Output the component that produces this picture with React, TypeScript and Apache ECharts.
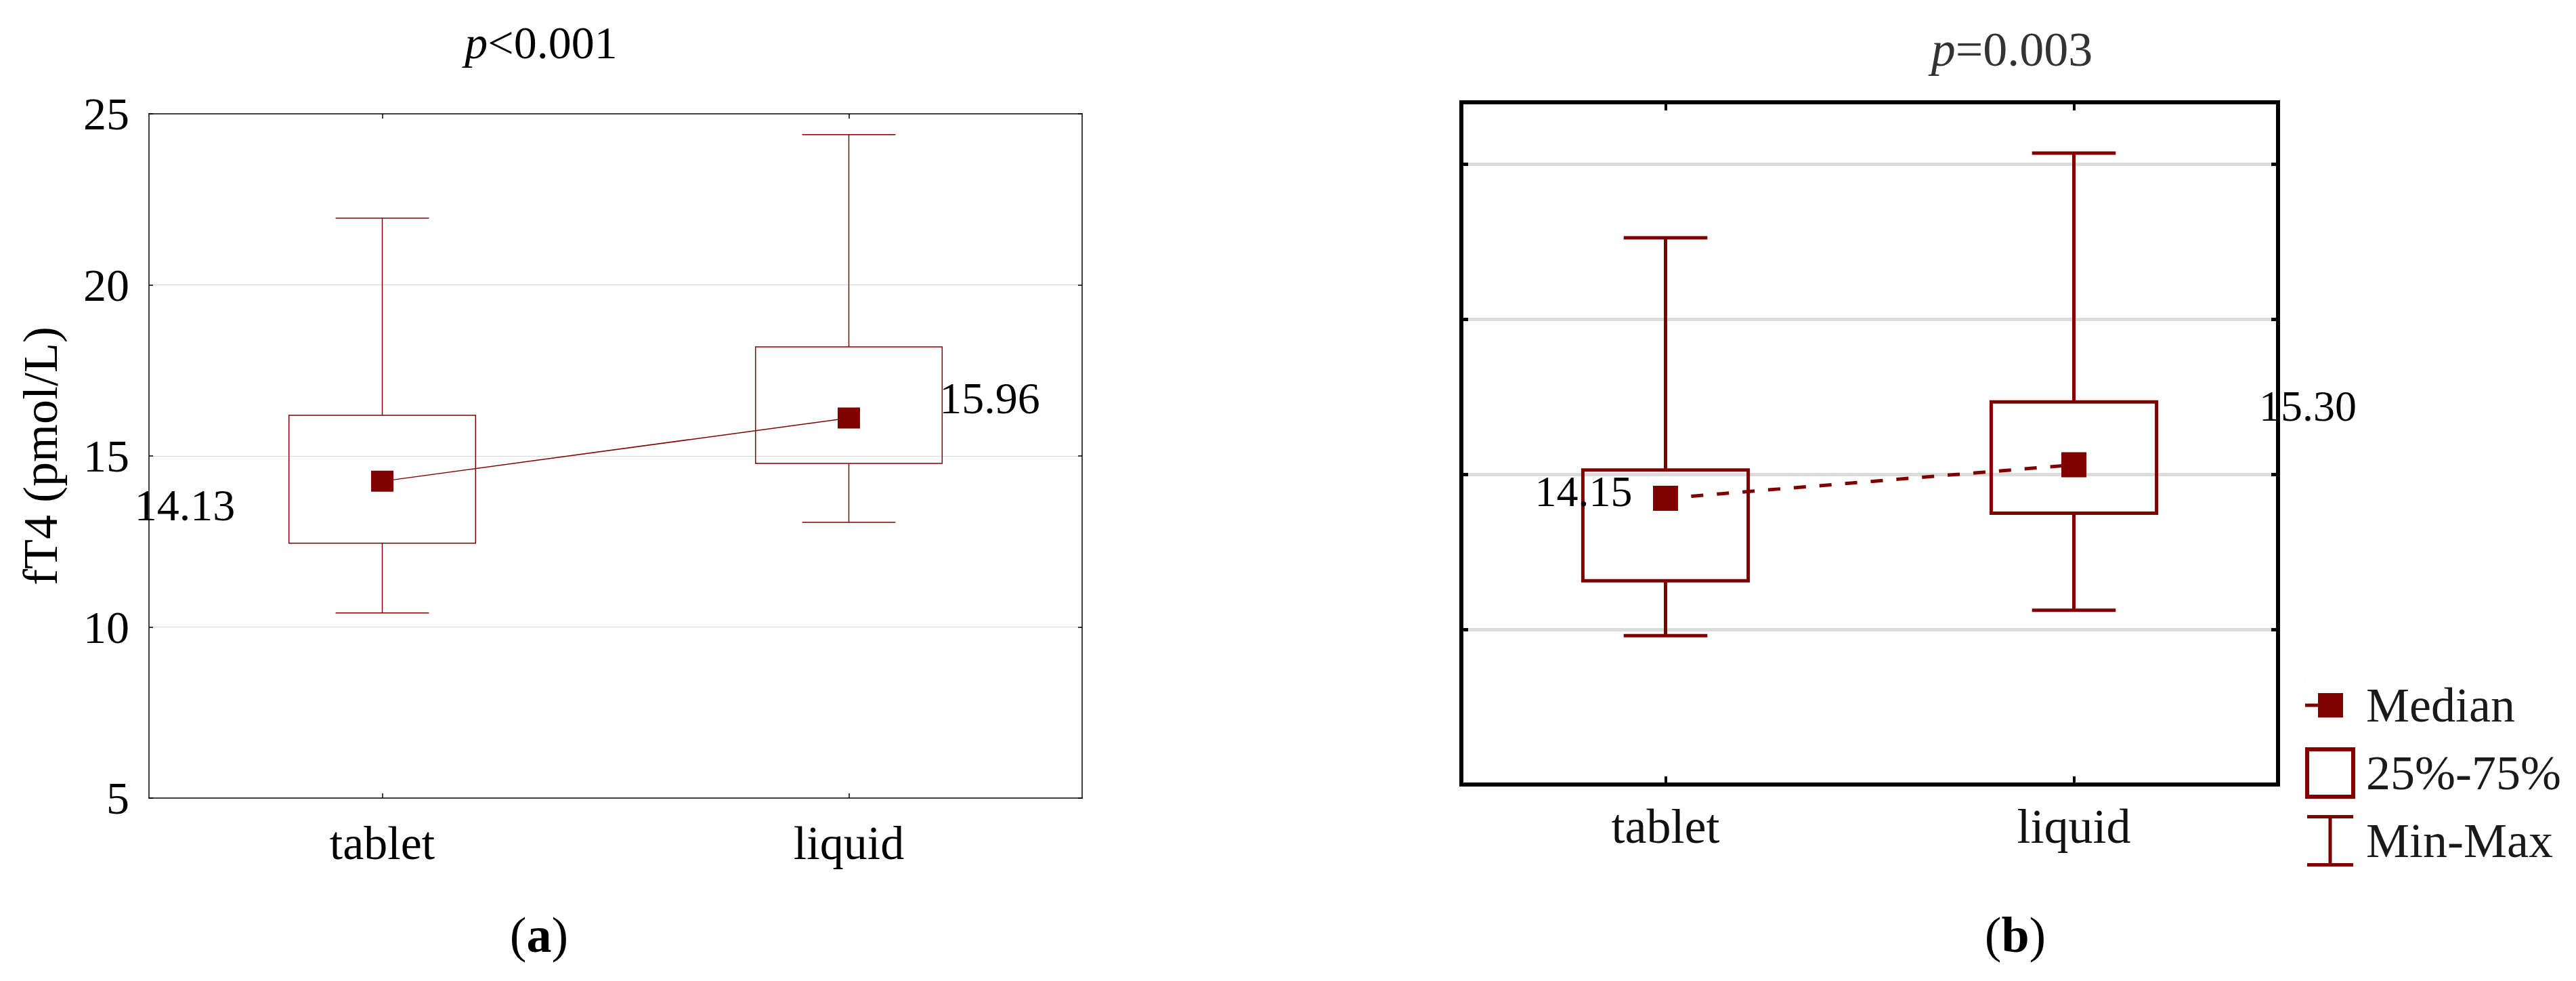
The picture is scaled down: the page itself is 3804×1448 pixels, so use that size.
import React, { useEffect, useRef } from "react";
import * as echarts from "echarts";

// ---------- data ----------
const categories = ["tablet", "liquid"];

// panel (a)
const aMin = [10.41, 13.06];
const aQ1 = [12.45, 14.78];
const aQ3 = [16.19, 18.19];
const aMax = [21.95, 24.39];
const aMedian = [14.26, 16.11];
const aMedianText = ["14.13", "15.96"];
const aYTicks = [5, 10, 15, 20, 25];

// panel (b)
const bMin = [9.8, 10.62];
const bQ1 = [11.57, 13.75];
const bQ3 = [15.14, 17.34];
const bMax = [22.63, 25.36];
const bMedian = [14.23, 15.31];
const bMedianText = ["14.15", "15.30"];
const bYTicks = [5, 10, 15, 20, 25];
const bYMax = 27;

const legendNames = ["Median", "25%-75%", "Min-Max"];
const titleA = "p<0.001";
const titleB = "p=0.003";

// ---------- styles / layout ----------
const RED = "#800000";
const SERIF = "'Liberation Serif', 'Times New Roman', serif";
const aLabelOffsets = [
  [-291.5, 35],
  [208, -29],
];
const bLabelOffsets = [
  [-121, -10],
  [345.5, -87],
];

const boxRender = (ratio: number, lw: number) => (_p: any, api: any) => {
  const idx = api.value(0);
  const lo = api.coord([idx, api.value(1)]);
  const hi = api.coord([idx, api.value(2)]);
  const band = api.size([1, 0])[0];
  const w = band * ratio;
  return {
    type: "rect",
    shape: { x: lo[0] - w / 2, y: hi[1], width: w, height: lo[1] - hi[1] },
    style: { fill: "none", stroke: RED, lineWidth: lw },
  };
};

const whiskerRender = (ratio: number, lw: number) => (_p: any, api: any) => {
  const idx = api.value(0);
  const pMin = api.coord([idx, api.value(1)]);
  const pQ1 = api.coord([idx, api.value(2)]);
  const pQ3 = api.coord([idx, api.value(3)]);
  const pMax = api.coord([idx, api.value(4)]);
  const band = api.size([1, 0])[0];
  const w = band * ratio;
  const st = { stroke: RED, lineWidth: lw };
  return {
    type: "group",
    children: [
      { type: "line", shape: { x1: pMax[0], y1: pMax[1], x2: pQ3[0], y2: pQ3[1] }, style: st },
      { type: "line", shape: { x1: pQ1[0], y1: pQ1[1], x2: pMin[0], y2: pMin[1] }, style: st },
      { type: "line", shape: { x1: pMax[0] - w / 2, y1: pMax[1], x2: pMax[0] + w / 2, y2: pMax[1] }, style: st },
      { type: "line", shape: { x1: pMin[0] - w / 2, y1: pMin[1], x2: pMin[0] + w / 2, y2: pMin[1] }, style: st },
    ],
  };
};

const whiskerData = (mn: number[], q1: number[], q3: number[], mx: number[]) =>
  categories.map((_c, i) => [i, mn[i], q1[i], q3[i], mx[i]]);
const boxData = (q1: number[], q3: number[]) => categories.map((_c, i) => [i, q1[i], q3[i]]);

const medianData = (vals: number[], texts: string[], offs: number[][], fs: number) =>
  vals.map((v, i) => ({
    value: v,
    label: {
      show: true,
      position: "inside",
      offset: offs[i],
      formatter: texts[i],
      fontSize: fs,
      fontFamily: SERIF,
      color: "#000",
      align: "center",
      verticalAlign: "middle",
    },
  }));

const catAxis = (gridIndex: number, position: string, lw: number, tickW: number, tickLen: number, label: any) => ({
  gridIndex,
  type: "category",
  data: categories,
  position,
  axisLine: { show: true, onZero: false, lineStyle: { color: "#000", width: lw, cap: "square" } },
  axisTick: { show: true, inside: true, alignWithLabel: true, length: tickLen, lineStyle: { color: "#000", width: tickW } },
  axisLabel: label,
  splitLine: { show: false },
});

const valAxis = (gridIndex: number, position: string, ticks: number[], max: number, lw: number, tickW: number, tickLen: number, extra: any) => ({
  gridIndex,
  type: "value",
  position,
  min: ticks[0],
  max,
  interval: ticks[1] - ticks[0],
  axisLine: { show: true, onZero: false, lineStyle: { color: "#000", width: lw, cap: "square" } },
  axisTick: { show: true, inside: true, length: tickLen, lineStyle: { color: "#000", width: tickW } },
  axisLabel: { show: false },
  splitLine: { show: false },
  ...extra,
});

const ICON_MEDIAN = "path://M0 0L0.5 0L0 0.5Z M74 76L73.5 76L74 75.5Z M0 35.5H19V40.5H0Z M19 20H56V56H19Z";
const ICON_BOX = "path://M0 0H74V76H0Z M6 6V70H68V6Z";
const ICON_WHISKER = "path://M0 0L0.5 0L0 0.5Z M74 76L73.5 76L74 75.5Z M3 0H71V5H3Z M34.5 5H39.5V71H34.5Z M3 71H71V76H3Z";

const option: any = {
  animation: false,
  backgroundColor: "#fff",
  grid: [
    { left: 220, top: 168, width: 1378, height: 1010, containLabel: false },
    { left: 2158, top: 151, width: 1206, height: 1007, containLabel: false },
  ],
  xAxis: [
    catAxis(0, "bottom", 1.5, 1.5, 7, { fontSize: 70, fontFamily: SERIF, color: "#000", margin: 31 }),
    catAxis(0, "top", 1.5, 1.5, 7, { show: false }),
    catAxis(1, "bottom", 6, 4, 12, { fontSize: 72, fontFamily: SERIF, color: "#111", margin: 26 }),
    catAxis(1, "top", 6, 4, 12, { show: false }),
  ],
  yAxis: [
    valAxis(0, "left", aYTicks, aYTicks[aYTicks.length - 1], 1.5, 1.5, 6, {
      axisLabel: { show: true, fontSize: 68, fontFamily: SERIF, color: "#000", margin: 29 },
      splitLine: { show: true, showMinLine: false, showMaxLine: false, lineStyle: { color: "#d9d9d9", width: 1.2 } },
      name: "fT4 (pmol/L)",
      nameLocation: "middle",
      nameGap: 124,
      nameTextStyle: { fontSize: 72, fontFamily: SERIF, color: "#000" },
    }),
    valAxis(0, "right", aYTicks, aYTicks[aYTicks.length - 1], 1.5, 1.5, 6, {}),
    valAxis(1, "left", bYTicks, bYMax, 6, 5, 10, {
      splitLine: { show: true, showMinLine: false, showMaxLine: false, lineStyle: { color: "#dcdcdc", width: 5 } },
    }),
    valAxis(1, "right", bYTicks, bYMax, 6, 5, 10, {}),
  ],
  legend: {
    show: true,
    orient: "vertical",
    left: 3399,
    top: 998,
    itemWidth: 74,
    itemHeight: 76,
    itemGap: 24,
    selectedMode: false,
    itemStyle: { borderWidth: 0 },
    textStyle: { fontSize: 72, fontFamily: SERIF, color: "#1a1a1a", padding: [0, 0, 0, 11] },
    data: [
      { name: legendNames[0], icon: ICON_MEDIAN },
      { name: legendNames[1], icon: ICON_BOX },
      { name: legendNames[2], icon: ICON_WHISKER },
    ],
  },
  series: [
    {
      type: "custom",
      name: "a Min-Max",
      xAxisIndex: 0,
      yAxisIndex: 0,
      renderItem: whiskerRender(0.2, 1.5),
      data: whiskerData(aMin, aQ1, aQ3, aMax),
      encode: { x: 0, y: [1, 2, 3, 4] },
      itemStyle: { color: RED },
      silent: true,
    },
    {
      type: "custom",
      name: "a 25%-75%",
      xAxisIndex: 0,
      yAxisIndex: 0,
      renderItem: boxRender(0.4, 1.5),
      data: boxData(aQ1, aQ3),
      encode: { x: 0, y: [1, 2] },
      itemStyle: { color: RED },
      silent: true,
    },
    {
      type: "line",
      name: "a Median",
      xAxisIndex: 0,
      yAxisIndex: 0,
      data: medianData(aMedian, aMedianText, aLabelOffsets, 66),
      symbol: "rect",
      symbolSize: [33, 31],
      itemStyle: { color: RED },
      lineStyle: { color: RED, width: 1.5 },
      silent: true,
    },
    {
      type: "custom",
      name: legendNames[2],
      xAxisIndex: 2,
      yAxisIndex: 2,
      renderItem: whiskerRender(0.205, 5),
      data: whiskerData(bMin, bQ1, bQ3, bMax),
      encode: { x: 0, y: [1, 2, 3, 4] },
      itemStyle: { color: RED },
      silent: true,
    },
    {
      type: "custom",
      name: legendNames[1],
      xAxisIndex: 2,
      yAxisIndex: 2,
      renderItem: boxRender(0.405, 5),
      data: boxData(bQ1, bQ3),
      encode: { x: 0, y: [1, 2] },
      itemStyle: { color: RED },
      silent: true,
    },
    {
      type: "line",
      name: legendNames[0],
      xAxisIndex: 2,
      yAxisIndex: 2,
      data: medianData(bMedian, bMedianText, bLabelOffsets, 64),
      symbol: "rect",
      symbolSize: [37, 37],
      itemStyle: { color: RED },
      lineStyle: { color: RED, width: 5, type: [18, 20] },
      silent: true,
    },
  ],
  graphic: [
    {
      type: "text",
      x: 799,
      y: 63,
      silent: true,
      style: {
        text: "{i|" + titleA.slice(0, 1) + "}" + titleA.slice(1),
        fontSize: 68,
        fontFamily: SERIF,
        fill: "#000",
        align: "center",
        verticalAlign: "middle",
        rich: { i: { fontStyle: "italic", fontSize: 68, fontFamily: SERIF, fill: "#000" } },
      },
    },
    {
      type: "text",
      x: 2971,
      y: 73,
      silent: true,
      style: {
        text: "{i|" + titleB.slice(0, 1) + "}" + titleB.slice(1),
        fontSize: 72,
        fontFamily: SERIF,
        fill: "#333",
        align: "center",
        verticalAlign: "middle",
        rich: { i: { fontStyle: "italic", fontSize: 72, fontFamily: SERIF, fill: "#333" } },
      },
    },
    {
      type: "text",
      x: 796,
      y: 1380,
      silent: true,
      style: {
        text: "({b|a})",
        fontSize: 74,
        fontFamily: SERIF,
        fill: "#000",
        align: "center",
        verticalAlign: "middle",
        rich: { b: { fontWeight: "bold", fontSize: 74, fontFamily: SERIF, fill: "#000" } },
      },
    },
    {
      type: "text",
      x: 2976,
      y: 1380,
      silent: true,
      style: {
        text: "({b|b})",
        fontSize: 74,
        fontFamily: SERIF,
        fill: "#000",
        align: "center",
        verticalAlign: "middle",
        rich: { b: { fontWeight: "bold", fontSize: 74, fontFamily: SERIF, fill: "#000" } },
      },
    },
  ],
};

export default function App() {
  const ref = useRef<HTMLDivElement>(null);
  useEffect(() => {
    document.body.style.margin = "0";
    const chart = echarts.init(ref.current as HTMLDivElement, undefined, { renderer: "svg" });
    chart.setOption(option);
    return () => chart.dispose();
  }, []);
  return (
    <div
      ref={ref}
      style={{ width: 3804, height: 1448, position: "absolute", left: 0, top: 0, background: "#fff" }}
    />
  );
}
